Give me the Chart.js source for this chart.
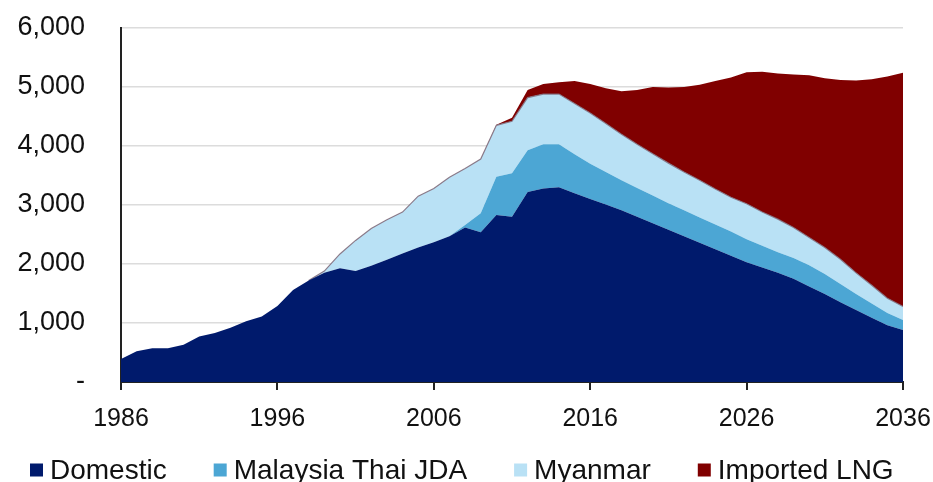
<!DOCTYPE html>
<html>
<head>
<meta charset="utf-8">
<script src="https://cdn.jsdelivr.net/npm/chart.js@4/dist/chart.umd.min.js"></script>
<style>
  html, body { margin: 0; padding: 0; background: #ffffff; }
  #wrap { width: 933px; height: 482px; }
</style>
</head>
<body>
<div id="wrap"><canvas id="c" width="933" height="482"></canvas></div>
<script>
const years = [1986,1987,1988,1989,1990,1991,1992,1993,1994,1995,
  1996,1997,1998,1999,2000,2001,2002,2003,2004,2005,
  2006,2007,2008,2009,2010,2011,2012,2013,2014,2015,
  2016,2017,2018,2019,2020,2021,2022,2023,2024,2025,
  2026,2027,2028,2029,2030,2031,2032,2033,2034,2035,2036];

const domestic = [390,520,570,570,630,770,830,920,1030,1110,
  1290,1560,1720,1850,1930,1880,1970,2070,2180,2280,
  2370,2470,2620,2540,2830,2800,3220,3280,3300,3200,
  3100,3010,2910,2800,2690,2580,2470,2360,2250,2140,
  2030,1940,1850,1750,1620,1490,1350,1220,1090,960,880];

const malaysiaThaiJDA = [0,0,0,0,0,0,0,0,0,0,
  0,0,0,0,0,0,0,0,0,0,
  0,0,40,320,650,740,710,750,730,660,
  600,550,510,490,470,450,440,430,420,410,
  390,370,350,350,360,340,310,270,240,210,170];

const myanmar = [0,0,0,0,0,0,0,0,0,0,
  0,0,0,30,240,520,630,680,700,870,
  910,1000,960,920,870,880,890,850,850,860,
  860,820,780,740,710,680,650,630,600,580,
  600,570,560,520,470,450,420,360,310,250,230];

const importedLNG = [0,0,0,0,0,0,0,0,0,0,
  0,0,0,0,0,0,0,0,0,0,
  0,0,0,0,10,60,130,170,200,380,
  490,600,730,920,1130,1280,1440,1620,1830,2030,
  2230,2380,2470,2590,2750,2870,3040,3260,3490,3760,3960];

const seriesNames = ['Domestic', 'Malaysia Thai JDA', 'Myanmar', 'Imported LNG'];
const yTicks = [0, 1000, 2000, 3000, 4000, 5000, 6000];
const xTicks = [1986, 1996, 2006, 2016, 2026, 2036];

const colors = ['#001a6c', '#4ca6d4', '#b9e1f5', '#800000'];
const FONT = "'Liberation Sans', Arial, sans-serif";
const TEXT = '#111111';

function pts(vals) { return years.map((y, i) => ({ x: y, y: vals[i] })); }

const seriesValues = [domestic, malaysiaThaiJDA, myanmar, importedLNG];

const datasets = seriesValues.map((vals, i) => {
  const ds = {
    label: seriesNames[i],
    data: pts(vals),
    backgroundColor: colors[i],
    borderColor: colors[i],
    borderWidth: 0,
    pointRadius: 0,
    tension: 0,
    fill: i === 0 ? 'origin' : '-1'
  };
  if (i === 2) {
    ds.borderWidth = 1.2;
    ds.segment = {
      borderColor: ctx => (ctx.p0.parsed.y === 0 && ctx.p1.parsed.y === 0) ? 'rgba(0,0,0,0)' : 'rgba(130,110,125,0.9)'
    };
  }
  return ds;
});

// Legend drawn along the bottom, one row, from the dataset labels/colours
const bottomLegend = {
  id: 'bottomLegend',
  afterDraw(chart) {
    const ctx = chart.ctx;
    const box = 13, gapBoxText = 7, gapItems = 47, startX = 30, cy = 470;
    ctx.save();
    ctx.font = '28px ' + FONT;
    ctx.textBaseline = 'middle';
    ctx.textAlign = 'left';
    let x = startX;
    chart.data.datasets.forEach((d, i) => {
      ctx.fillStyle = d.backgroundColor;
      ctx.fillRect(x, cy - box / 2, box, box);
      x += box + gapBoxText;
      ctx.fillStyle = TEXT;
      ctx.fillText(d.label, x, cy + 1);
      x += ctx.measureText(d.label).width + gapItems;
    });
    ctx.restore();
  }
};

new Chart(document.getElementById('c'), {
  type: 'line',
  data: { datasets },
  plugins: [bottomLegend],
  options: {
    responsive: false,
    animation: false,
    layout: { padding: { top: 28, right: 30, left: 0, bottom: 0 } },
    plugins: {
      tooltip: { enabled: false },
      legend: { display: false }
    },
    scales: {
      x: {
        type: 'linear',
        min: 1986,
        max: 2036,
        afterBuildTicks: s => { s.ticks = xTicks.map(v => ({ value: v })); },
        afterFit: s => { s.height = 100; },
        ticks: {
          color: TEXT,
          font: { family: FONT, size: 25, lineHeight: 2.32 },
          padding: 0,
          maxRotation: 0,
          autoSkip: false,
          callback: v => String(v)
        },
        grid: {
          drawOnChartArea: false,
          drawTicks: true,
          tickLength: 8,
          color: '#222',
          lineWidth: 2
        },
        border: { display: true, color: '#222', width: 2 }
      },
      y: {
        stacked: true,
        min: 0,
        max: 6000,
        afterBuildTicks: s => { s.ticks = yTicks.map(v => ({ value: v })); },
        afterFit: s => { s.width = 121; },
        ticks: {
          color: TEXT,
          font: { family: FONT, size: 27 },
          padding: 0,
          callback: v => v === 0 ? '-' : v.toLocaleString('en-US')
        },
        grid: {
          drawTicks: true,
          tickLength: 36,
          tickColor: 'rgba(0,0,0,0)',
          color: '#dcdcdc',
          lineWidth: 1.5
        },
        border: { display: true, color: '#222', width: 2 }
      }
    }
  }
});
</script>
</body>
</html>
